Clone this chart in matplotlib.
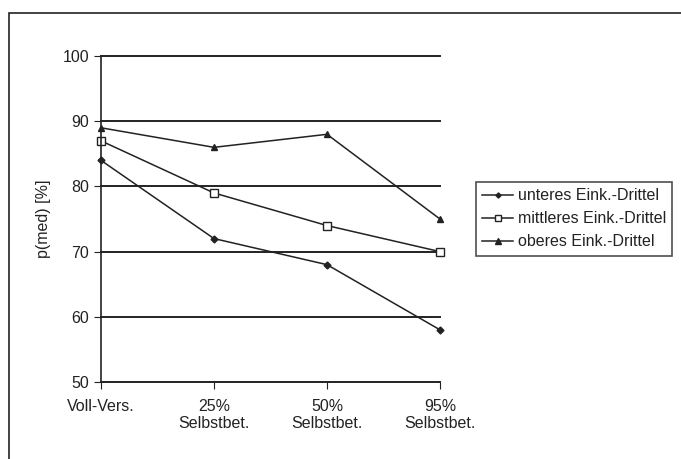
import matplotlib
matplotlib.use('Agg')
import matplotlib.pyplot as plt
from matplotlib.patches import Rectangle

categories = ['Voll-Vers.', '25%\nSelbstbet.', '50%\nSelbstbet.', '95%\nSelbstbet.']
unteres = [84, 72, 68, 58]
mittleres = [87, 79, 74, 70]
oberes = [89, 86, 88, 75]
series_names = ['unteres Eink.-Drittel', 'mittleres Eink.-Drittel', 'oberes Eink.-Drittel']

plt.rcParams['font.family'] = ['Liberation Sans', 'DejaVu Sans']
plt.rcParams['font.size'] = 11.5

fig = plt.figure(figsize=(6.81, 4.59), dpi=100)
ax = fig.add_axes([0.1483, 0.1678, 0.4978, 0.710])

# outer frame of the chart area
fig.patches.append(Rectangle((9/681, -0.05), 1.2, 1 - 13/459 + 0.05, transform=fig.transFigure,
                             fill=False, edgecolor='#222222', linewidth=1.2))

x = list(range(len(categories)))
ax.plot(x, unteres, color='#222222', lw=1.1, marker='D', ms=3.5, mfc='#222222', label=series_names[0], clip_on=False)
ax.plot(x, mittleres, color='#222222', lw=1.1, marker='s', ms=5.5, mfc='white', mew=1, label=series_names[1], clip_on=False)
ax.plot(x, oberes, color='#222222', lw=1.1, marker='^', ms=5, mfc='#222222', label=series_names[2], clip_on=False)

ax.set_xlim(0, 3)
ax.set_ylim(50, 100)
ax.set_yticks([50, 60, 70, 80, 90, 100])
ax.set_xticks(x)
ax.set_xticklabels(categories)
for y in [60, 70, 80, 90, 100]:
    ax.axhline(y, color='#222222', lw=1.4, zorder=0, clip_on=False)

for s in ['top', 'right']:
    ax.spines[s].set_visible(False)
ax.spines['left'].set_color('#222222')
ax.spines['bottom'].set_color('#222222')
ax.spines['left'].set_linewidth(1.2)
ax.spines['bottom'].set_linewidth(1.4)
ax.tick_params(axis='both', direction='out', length=5, color='#222222', labelcolor='#222222')
ax.tick_params(axis='x', pad=7)
ax.set_ylabel('p(med) [%]', color='#222222', labelpad=8)

leg = ax.legend(loc='upper left', bbox_to_anchor=(476/681, 1 - 182/459), bbox_transform=fig.transFigure,
                frameon=True, fancybox=False, edgecolor='#222222', handlelength=1.9,
                handletextpad=0.3, borderpad=0.4, labelspacing=0.5, borderaxespad=0,
                fontsize=11.5, markerscale=0.75)
leg.get_frame().set_linewidth(1.2)
for t in leg.get_texts():
    t.set_color('#222222')

fig.savefig('out.png', dpi=100)
